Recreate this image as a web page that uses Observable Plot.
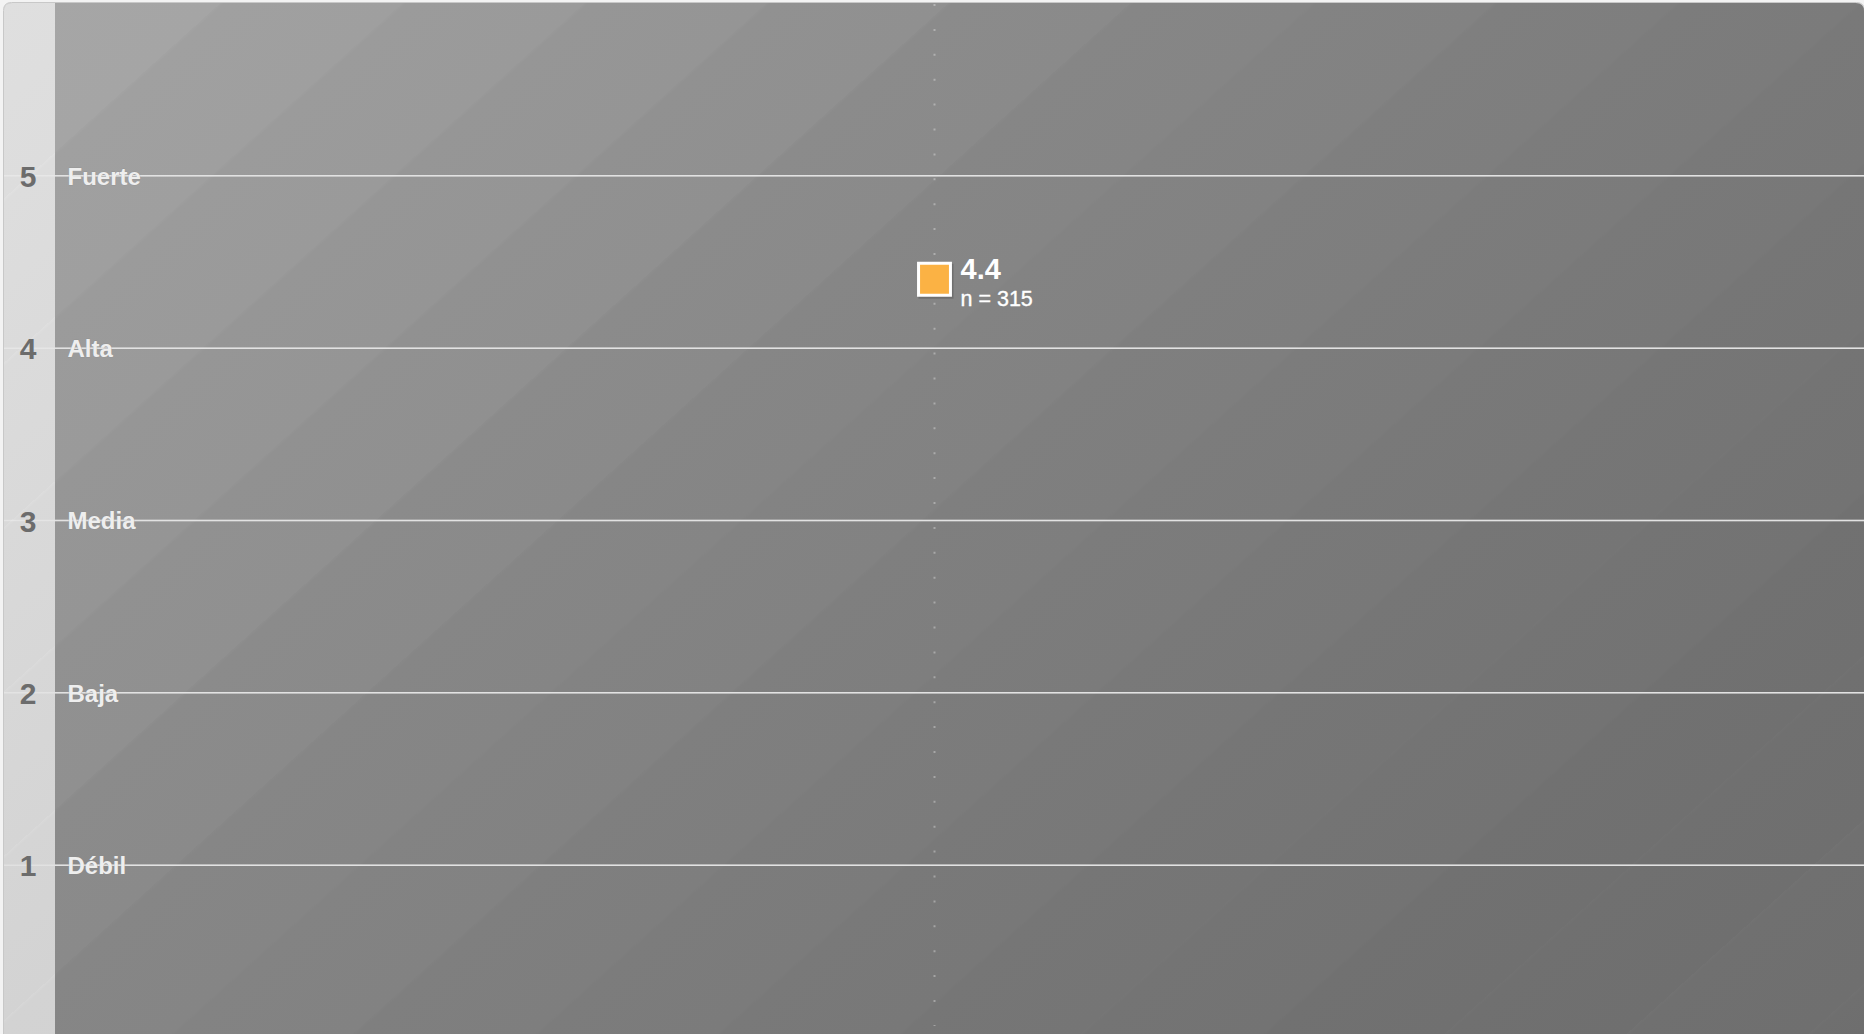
<!DOCTYPE html>
<html>
<head>
<meta charset="utf-8">
<script src="https://cdn.jsdelivr.net/npm/d3@7"></script>
<script src="https://cdn.jsdelivr.net/npm/@observablehq/plot@0.6"></script>
<style>
  html, body { margin: 0; padding: 0; background: #f3f3f3; overflow: hidden; }
  #chart { position: absolute; left: 0; top: 0; }
</style>
</head>
<body>
<div id="chart"></div>
<script>
// ---- data ----
const levels = [1, 2, 3, 4, 5];
const levelNames = ["Débil", "Baja", "Media", "Alta", "Fuerte"];
const pointX = [1];
const pointMean = [4.4];
const pointN = [315];

const points = pointX.map((x, i) => ({x, mean: pointMean[i], n: pointN[i]}));
const ticks = levels.map((v, i) => ({v, name: levelNames[i]}));

const FONT = "'Liberation Sans', Arial, Helvetica, sans-serif";

const chart = Plot.plot({
  width: 1864,
  height: 1034,
  marginLeft: 4,
  marginRight: 0,
  marginTop: 3,
  marginBottom: -3,
  style: {background: "transparent", fontFamily: FONT, maxWidth: "none"},
  x: {domain: [0, 2], axis: null},
  y: {domain: [0, 6], axis: null},
  marks: [
    Plot.ruleY(ticks, {y: "v", stroke: "#ffffff", strokeOpacity: 0.3, strokeWidth: 1.5}),
    Plot.ruleY(ticks, {y: "v", stroke: "#e2e2e2", strokeWidth: 1.5, insetLeft: 51}),
    Plot.ruleX(points, {x: "x", stroke: "#ffffff", strokeOpacity: 0.33, strokeWidth: 2,
      strokeDasharray: "2 22.9", insetTop: 1, insetBottom: 11}),
    Plot.text(ticks, {y: "v", text: d => String(d.v), frameAnchor: "left", dx: 23.5, dy: 1.5,
      textAnchor: "middle", fontSize: 30, fontWeight: "bold", fill: "#6c6c6c"}),
    Plot.text(ticks, {y: "v", text: "name", frameAnchor: "left", dx: 63, dy: 1,
      textAnchor: "start", fontSize: 24, fontWeight: "bold", fill: "#eeeeee",
      stroke: "#8a8a8a", strokeWidth: 0.8, strokeOpacity: 0.5, paintOrder: "stroke"}),
    Plot.dot(points, {x: "x", y: "mean", symbol: "square", r: 19.8, fill: "#000000",
      fillOpacity: 0.16, dx: 1.5, dy: 2}),
    Plot.dot(points, {x: "x", y: "mean", symbol: "square", r: 18, fill: "#fbb244",
      stroke: "#ffffff", strokeWidth: 3}),
    Plot.text(points, {x: "x", y: "mean", text: d => d.mean.toFixed(1), dx: 26, dy: 0,
      lineAnchor: "bottom", textAnchor: "start", fontSize: 29, fontWeight: "bold", fill: "#ffffff"}),
    Plot.text(points, {x: "x", y: "mean", text: d => `n = ${d.n}`, dx: 26, dy: 27,
      lineAnchor: "bottom", textAnchor: "start", fontSize: 21.5, fill: "#ffffff",
      stroke: "#ffffff", strokeWidth: 0.35})
  ]
});

// ---- decorative background (diagonal banded gradient) ----
(function decorate() {
  const svg = d3.select(chart);
  const xr = chart.scale("x").range;
  const L = xr[0], R = xr[1], T = 3, B = 1034;
  const stripW = 51;
  const ux = 0.670, uy = 0.742;
  const QMAX = 1864 * ux + 1034 * uy;

  const defs = svg.insert("defs", ":first-child");

  function bandedGradient(id, curve, bandQ, phase) {
    const g = defs.append("linearGradient").attr("id", id)
      .attr("gradientUnits", "userSpaceOnUse")
      .attr("x1", 0).attr("y1", 0).attr("x2", QMAX * ux).attr("y2", QMAX * uy);
    const edges = [0];
    for (let q = phase; q < QMAX; q += bandQ) if (q > 0) edges.push(q);
    edges.push(QMAX);
    for (let i = 0; i < edges.length - 1; i++) {
      const q0 = edges[i], q1 = edges[i + 1];
      const c = curve((q0 + q1) / 2);
      const hi = d3.rgb(c).brighter(0.05).formatHex();
      g.append("stop").attr("offset", q0 / QMAX).attr("stop-color", hi);
      g.append("stop").attr("offset", Math.min(1, (q0 + 3) / QMAX)).attr("stop-color", c);
      g.append("stop").attr("offset", q1 / QMAX - 1e-7).attr("stop-color", d3.rgb(c).darker(0.02).formatHex());
    }
    return `url(#${id})`;
  }

  const plotCurve = d3.scaleLinear()
    .domain([0, 40, 400, 804, 1207, 1386, 1700, 2020])
    .range(["#aaaaaa", "#a8a8a8", "#989898", "#878787", "#7b7b7b", "#777777", "#717171", "#6f6f6f"])
    .clamp(true);
  const stripCurve = d3.scaleLinear()
    .domain([0, 800]).range(["#e0e0e0", "#d3d3d3"]).clamp(true);

  const bgFill = bandedGradient("bgGrad", plotCurve, 122, 150);
  const stripFill = bandedGradient("stripGrad", stripCurve, 122, 150);

  const clip = defs.append("clipPath").attr("id", "boxClip");
  clip.append("path").attr("d",
    `M${L},${B} L${L},${T + 8} Q${L},${T} ${L + 8},${T} L${R - 8},${T} Q${R},${T} ${R},${T + 8} L${R},${B} Z`);

  const bg = svg.insert("g", "defs + *").attr("clip-path", "url(#boxClip)");
  bg.append("rect").attr("x", L).attr("y", T).attr("width", R - L).attr("height", B - T)
    .attr("fill", bgFill);
  bg.append("rect").attr("x", L).attr("y", T).attr("width", stripW).attr("height", B - T)
    .attr("fill", stripFill);
  svg.insert("path", "defs + *").attr("d",
    `M${L - 0.5},${B} L${L - 0.5},${T + 7.5} Q${L - 0.5},${T - 0.5} ${L + 7.5},${T - 0.5} L${R - 7.5},${T - 0.5} Q${R + 0.5},${T - 0.5} ${R + 0.5},${T + 7.5}`)
    .attr("fill", "none").attr("stroke", "#c8c8c8").attr("stroke-width", 1);
})();

document.getElementById("chart").appendChild(chart);
</script>
</body>
</html>
